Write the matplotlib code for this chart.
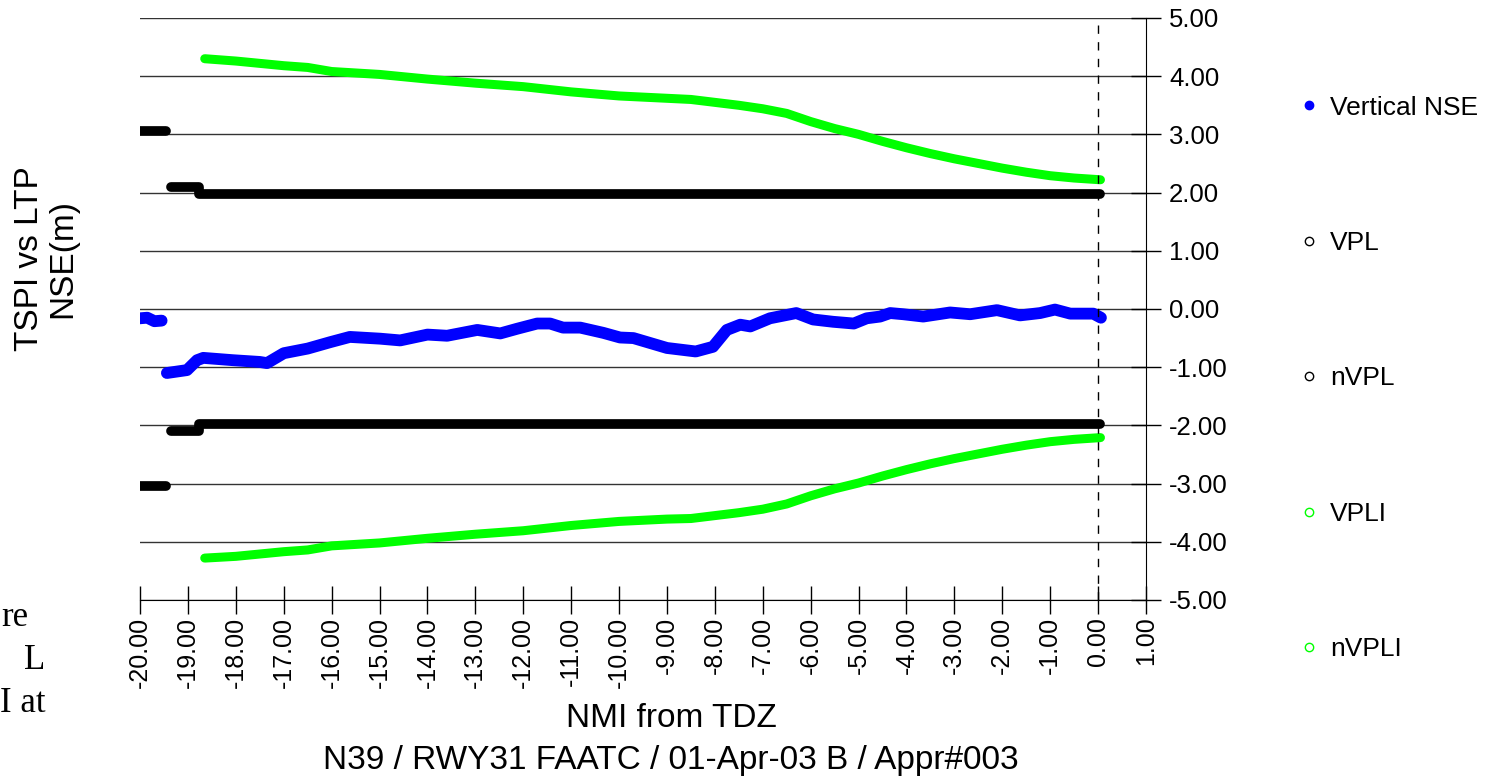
# Vertical NSE vs protection levels, approach plot
import matplotlib.pyplot as plt
from matplotlib.lines import Line2D
from matplotlib.ticker import MultipleLocator, FormatStrFormatter

plt.rcParams['font.family'] = ['Liberation Sans', 'DejaVu Sans']
plt.rcParams['axes.unicode_minus'] = False

# vertical NSE, two runs
nse_x1 = [-20.3, -20.0, -19.85, -19.7, -19.55]
nse_y1 = [-0.15, -0.16, -0.15, -0.21, -0.20]
nse_x2 = [-19.44, -19.02, -18.81, -18.68, -18.06, -17.5, -17.35, -17.0, -16.5, -16.03,
          -15.62, -14.99, -14.57, -14.0, -13.59, -12.96, -12.48, -12.13, -11.71, -11.44,
          -11.17, -10.81, -10.33, -9.98, -9.7, -9.0, -8.4, -8.04, -7.75, -7.47,
          -7.26, -6.85, -6.3, -5.95, -5.53, -5.1, -4.83, -4.55, -4.34, -4.07,
          -3.65, -3.09, -2.67, -2.11, -1.63, -1.21, -0.9, -0.58, -0.1, 0.06]
nse_y2 = [-1.10, -1.05, -0.88, -0.84, -0.88, -0.91, -0.93, -0.76, -0.68, -0.57,
          -0.48, -0.51, -0.54, -0.44, -0.46, -0.36, -0.42, -0.34, -0.25, -0.25,
          -0.32, -0.32, -0.41, -0.49, -0.50, -0.67, -0.73, -0.65, -0.36, -0.27,
          -0.30, -0.16, -0.07, -0.18, -0.22, -0.25, -0.16, -0.13, -0.07, -0.09,
          -0.13, -0.06, -0.09, -0.02, -0.11, -0.07, -0.01, -0.08, -0.08, -0.15]

# VPL / nVPL (steps)
vpl_x1 = [-20.3, -19.46]
vpl_y1 = [3.05, 3.05]
vpl_x2 = [-19.35, -18.77, -18.77, 0.05]
vpl_y2 = [2.09, 2.09, 1.97, 1.97]
nvpl_y1 = [-3.05, -3.05]
nvpl_y2 = [-2.09, -2.09, -1.97, -1.97]

# VPLI / nVPLI
vpli_x = [-18.65, -18, -17, -16.5, -16, -15, -14, -13, -12, -11, -10, -9, -8.5, -8,
          -7.5, -7, -6.5, -6, -5.5, -5, -4.5, -4, -3.5, -3, -2.5, -2, -1.5, -1, -0.5, 0.05]
vpli_y = [4.30, 4.26, 4.18, 4.15, 4.08, 4.03, 3.95, 3.88, 3.82, 3.73, 3.66, 3.62, 3.60, 3.55,
          3.50, 3.44, 3.36, 3.22, 3.10, 3.00, 2.88, 2.77, 2.67, 2.58, 2.50, 2.42, 2.35, 2.29, 2.25, 2.22]
nvpli_y = [-4.28, -4.25, -4.17, -4.14, -4.07, -4.02, -3.94, -3.87, -3.81, -3.72, -3.65, -3.61, -3.60, -3.55,
           -3.50, -3.44, -3.35, -3.21, -3.09, -2.99, -2.87, -2.76, -2.66, -2.57, -2.49, -2.41, -2.34, -2.28, -2.24, -2.21]

fig = plt.figure(figsize=(14.98, 7.78), dpi=100)
ax = fig.add_axes([0.0935, 0.2288, 0.6715, 0.7481])

lw = dict(solid_capstyle='round', solid_joinstyle='round')
ax.plot(vpl_x1, vpl_y1, color='black', lw=7, **lw)
ax.plot(vpl_x2, vpl_y2, color='black', lw=7, **lw)
ax.plot(vpl_x1, nvpl_y1, color='black', lw=7, **lw)
ax.plot(vpl_x2, nvpl_y2, color='black', lw=7, **lw)
ax.plot(vpli_x, vpli_y, color='#00ff00', lw=6.5, **lw)
ax.plot(vpli_x, nvpli_y, color='#00ff00', lw=6.5, **lw)
ax.plot(nse_x1, nse_y1, color='#0000ff', lw=8.5, **lw)
ax.plot(nse_x2, nse_y2, color='#0000ff', lw=8.5, **lw)

ax.axvline(0, ymax=0.99, color='black', lw=1, ls=(0, (6, 6)))

ax.set_xlim(-20, 1)
ax.set_ylim(-5, 5)
ax.xaxis.set_major_locator(MultipleLocator(1))
ax.yaxis.set_major_locator(MultipleLocator(1))
ax.xaxis.set_major_formatter(FormatStrFormatter('%.2f'))
ax.yaxis.set_major_formatter(FormatStrFormatter('%.2f'))
ax.yaxis.tick_right()
ax.tick_params(axis='x', direction='inout', length=20, width=1, labelsize=18,
               labelrotation=90, pad=2)
ax.tick_params(axis='y', direction='inout', length=21, width=1, labelsize=18.5, pad=6)
ax.grid(axis='y', color='#333333', lw=1)
ax.set_axisbelow(True)
for s in ['top', 'left']:
    ax.spines[s].set_visible(False)

fig.text(0.031, 0.668, 'TSPI vs LTP\nNSE(m)', rotation=90, ha='center', va='center',
         fontsize=24, multialignment='center', linespacing=1.1)
fig.text(0.448, 0.077, 'NMI from TDZ', ha='center', va='center', fontsize=24)
fig.text(0.448, 0.023, 'N39 / RWY31 FAATC / 01-Apr-03 B / Appr#003', ha='center',
         va='center', fontsize=24)

# cropped text from the surrounding page
for yy, txt, xx in [(0.195, 're', 0.001), (0.14, 'L', 0.016), (0.085, 'I at', 0.0)]:
    fig.text(xx, yy, txt, fontsize=25, family=['Liberation Serif', 'DejaVu Serif'],
             ha='left', va='baseline')

handles = [
    Line2D([], [], ls='none', marker='o', ms=6, mfc='#0000ff', mec='#0000ff'),
    Line2D([], [], ls='none', marker='o', ms=6, mfc='white', mec='black', mew=1),
    Line2D([], [], ls='none', marker='o', ms=6, mfc='white', mec='black', mew=1),
    Line2D([], [], ls='none', marker='o', ms=6, mfc='white', mec='#00ff00', mew=1),
    Line2D([], [], ls='none', marker='o', ms=6, mfc='white', mec='#00ff00', mew=1),
]
fig.legend(handles, ['Vertical NSE', 'VPL', 'nVPL', 'VPLI', 'nVPLI'],
           loc='upper left', bbox_to_anchor=(0.8687, 0.877), frameon=False,
           fontsize=19, handlelength=0.6, handletextpad=0.5, labelspacing=4.22,
           borderpad=0, borderaxespad=0)

fig.savefig('out.png', dpi=100)
